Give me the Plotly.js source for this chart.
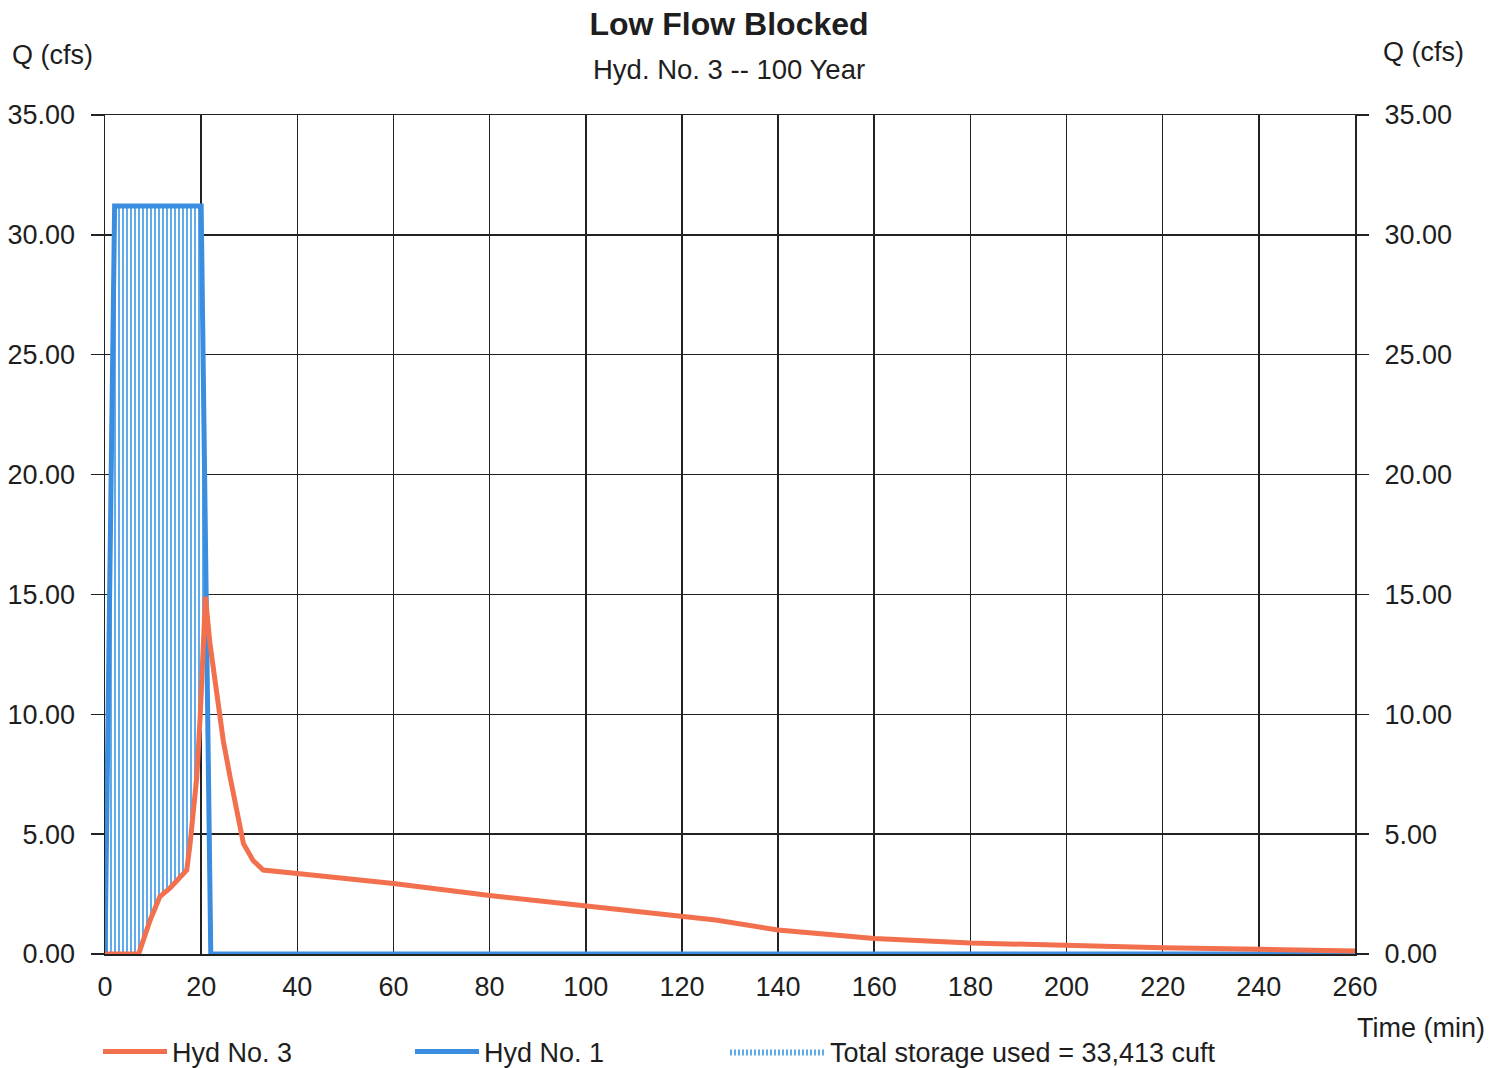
<!DOCTYPE html>
<html>
<head>
<meta charset="utf-8">
<script src="https://cdn.plot.ly/plotly-3.0.1.min.js"></script>
<style>html,body{margin:0;padding:0;background:#fff;}#chart{width:1501px;height:1068px;}</style>
</head>
<body>
<div id="chart"></div>
<script>
// Hyd No. 1 (inflow) — time (min) and Q (cfs)
const hyd1Time = [0, 2, 20, 22, 260];
const hyd1Q    = [0, 31.2, 31.2, 0, 0];

// Hyd No. 3 (outflow) — time (min) and Q (cfs)
const hyd3Time = [0, 7, 9.4, 11.4, 13.5, 17, 17.7, 19.1, 19.8, 20.4, 20.9, 21.8, 23.2, 24.6, 26, 27.4, 28.8, 30.8, 32.9, 40, 60, 80, 100, 120, 127, 140, 160, 180, 200, 220, 240, 260];
const hyd3Q    = [0, 0, 1.42, 2.39, 2.75, 3.5, 4.6, 7.4, 9.9, 13.0, 14.9, 13.0, 10.9, 8.9, 7.4, 5.9, 4.6, 3.9, 3.5, 3.36, 2.94, 2.44, 2.0, 1.58, 1.42, 1.0, 0.65, 0.46, 0.34, 0.26, 0.2, 0.13];

const xTicks = [0, 20, 40, 60, 80, 100, 120, 140, 160, 180, 200, 220, 240, 260];
const yTicks = [0, 5, 10, 15, 20, 25, 30, 35];

const chartTitle = 'Low Flow Blocked';
const chartSubtitle = 'Hyd. No. 3 -- 100 Year';
const storageLabel = 'Total storage used = 33,413 cuft';

// storage region: between inflow (top) and outflow (bottom) up to the outflow peak
const peakIdx = hyd3Q.indexOf(Math.max(...hyd3Q));
const peakT = hyd3Time[peakIdx];
const stX = [], stY = [];
hyd1Time.forEach((t, i) => { if (t <= peakT) { stX.push(t); stY.push(hyd1Q[i]); } });
for (let i = peakIdx; i >= 0; i--) { stX.push(hyd3Time[i]); stY.push(hyd3Q[i]); }

const FONT = 'Liberation Sans, Arial, sans-serif';
const TXT = '#1e1e1e';
const ORANGE = '#f2704d';
const BLUE = '#3b8de0';

const traces = [
  {
    x: stX, y: stY, type: 'scatter', mode: 'lines', fill: 'toself',
    line: {width: 0, color: 'rgba(0,0,0,0)'},
    fillcolor: 'white',
    fillpattern: {shape: '|', size: 4, solidity: 0.45, fgcolor: '#4ea2ea', bgcolor: 'white', fillmode: 'replace'},
    name: storageLabel, legend: 'legend3', hoverinfo: 'skip'
  },
  {
    x: hyd1Time, y: hyd1Q, type: 'scatter', mode: 'lines',
    line: {color: BLUE, width: 5}, name: 'Hyd No. 1', legend: 'legend2'
  },
  {
    x: hyd3Time, y: hyd3Q, type: 'scatter', mode: 'lines',
    line: {color: ORANGE, width: 5}, name: 'Hyd No. 3', legend: 'legend'
  },
  {
    x: [], y: [], type: 'scatter', mode: 'lines', yaxis: 'y2', showlegend: false
  }
];

const yCommon = {
  range: [0, 35], tickvals: yTicks, tickformat: '.2f',
  ticks: 'outside', ticklen: 13, tickwidth: 1.5, tickcolor: '#222',
  tickfont: {family: FONT, size: 27, color: TXT},
  ticklabelstandoff: 10, fixedrange: true
};

function legendAt(px, iw) {
  return {
    orientation: 'h', xref: 'container', yref: 'container',
    x: px / 1501, xanchor: 'left', y: 1 - 1052 / 1068, yanchor: 'middle',
    font: {family: FONT, size: 27, color: TXT}, itemwidth: iw,
    bgcolor: 'rgba(0,0,0,0)'
  };
}

const layout = {
  width: 1501, height: 1068,
  paper_bgcolor: '#ffffff', plot_bgcolor: '#ffffff',
  margin: {l: 105, r: 146, t: 115, b: 114},
  font: {family: FONT, color: TXT},
  title: {
    text: '<b>' + chartTitle + '</b>', xref: 'container', x: 729 / 1501,
    xanchor: 'center', yref: 'container', y: 1 - 24 / 1068, yanchor: 'middle',
    font: {family: FONT, size: 32, color: TXT}
  },
  xaxis: {
    range: [0, 260], tickvals: xTicks, ticks: '', showgrid: true,
    gridcolor: '#222', gridwidth: 1.5, zeroline: false,
    showline: true, mirror: true, linecolor: '#222', linewidth: 1.5,
    tickfont: {family: FONT, size: 27, color: TXT}, ticklabelstandoff: 8
  },
  yaxis: Object.assign({}, yCommon, {
    showgrid: true, gridcolor: '#222', gridwidth: 1.5, zeroline: false,
    showline: true, mirror: true, linecolor: '#222', linewidth: 1.5, side: 'left'
  }),
  yaxis2: Object.assign({}, yCommon, {
    overlaying: 'y', side: 'right', showgrid: false, zeroline: false, showline: false
  }),
  showlegend: true,
  legend: legendAt(98, 64),
  legend2: legendAt(410, 64),
  legend3: legendAt(725, 95),
  annotations: [
    {text: chartSubtitle, xref: 'paper', yref: 'paper', x: 0.4992, y: (954 - 69) / 839,
     xanchor: 'center', yanchor: 'middle', showarrow: false, font: {family: FONT, size: 27.5, color: TXT}},
    {text: 'Q (cfs)', xref: 'paper', yref: 'paper', x: (52 - 105) / 1250, y: (954 - 55) / 839,
     xanchor: 'center', yanchor: 'middle', showarrow: false, font: {family: FONT, size: 27, color: TXT}},
    {text: 'Q (cfs)', xref: 'paper', yref: 'paper', x: (1423 - 105) / 1250, y: (954 - 52) / 839,
     xanchor: 'center', yanchor: 'middle', showarrow: false, font: {family: FONT, size: 27, color: TXT}},
    {text: 'Time (min)', xref: 'paper', yref: 'paper', x: (1421 - 105) / 1250, y: (954 - 1028) / 839,
     xanchor: 'center', yanchor: 'middle', showarrow: false, font: {family: FONT, size: 27, color: TXT}}
  ]
};

Plotly.newPlot('chart', traces, layout, {staticPlot: true, displayModeBar: false});
</script>
</body>
</html>
